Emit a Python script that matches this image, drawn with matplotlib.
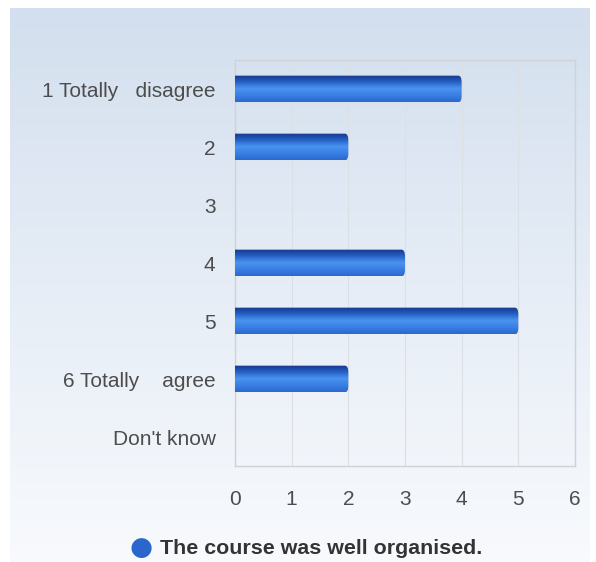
import numpy as np
import matplotlib.pyplot as plt
from matplotlib.patches import FancyBboxPatch
from matplotlib.colors import LinearSegmentedColormap

categories = ["1 Totally   disagree", "2", "3", "4", "5", "6 Totally    agree", "Don't know"]
counts = [4, 2, 0, 3, 5, 2, 0]
xticks = [0, 1, 2, 3, 4, 5, 6]
series_name = "The course was well organised."

plt.rcParams['font.family'] = ['Liberation Sans', 'DejaVu Sans']

fig = plt.figure(figsize=(5.96, 5.62), dpi=100)

# panel background: pale blue fading to white
bg = fig.add_axes([0, 0, 1, 1], zorder=-1)
bg.set_xlim(0, 1)
bg.set_ylim(0, 1)
bg.axis('off')
grad = np.linspace(0, 1, 256).reshape(-1, 1)
bg_cmap = LinearSegmentedColormap.from_list('bg', ['#f8fafd', '#e6edf6', '#d3dfee'])
bg.imshow(grad, cmap=bg_cmap, aspect='auto', extent=[10 / 596, 590 / 596, 0, 1 - 8 / 562],
          origin='lower', interpolation='bicubic')

ax = fig.add_axes([235 / 596, 1 - 466 / 562, 340 / 596, 406 / 562])
ax.patch.set_alpha(0)

bar_cmap = LinearSegmentedColormap.from_list(
    'bar', ['#16368c', '#2560c4', '#4a94f0', '#3a80e4', '#2a68cf'])
bar_h = 0.46
for i, v in enumerate(counts):
    if v <= 0:
        continue
    patch = FancyBboxPatch((-0.2, i - bar_h / 2), v + 0.2, bar_h,
                           boxstyle='round,pad=0,rounding_size=0.06',
                           mutation_aspect=2.0, facecolor='none', edgecolor='none', zorder=3)
    ax.add_patch(patch)
    img = ax.imshow(np.linspace(0, 1, 64).reshape(-1, 1), cmap=bar_cmap, aspect='auto',
                    extent=[0, v, i + bar_h / 2, i - bar_h / 2], origin='upper',
                    interpolation='bicubic', zorder=3)
    img.set_clip_path(patch)

ax.set_xlim(0, 6)
ax.set_ylim(len(categories) - 0.5, -0.5)
ax.set_xticks(xticks)
ax.set_xticklabels([str(t) for t in xticks])
ax.set_yticks(range(len(categories)))
ax.set_yticklabels(categories)
ax.tick_params(axis='both', length=0, labelsize=15, labelcolor='#4d4d4d')
ax.tick_params(axis='x', pad=17)
ax.tick_params(axis='y', pad=14)
ax.grid(axis='x', color='#dcdfe4', linewidth=0.8, zorder=0)
ax.set_axisbelow(True)
for s in ax.spines.values():
    s.set_color('#cfd3d8')
    s.set_linewidth(1.0)

# legend entry below the plot
fig.text(141 / 596, 1 - 548 / 562, '\u25cf', fontsize=19, color='#2a66cc',
         ha='center', va='center', family='DejaVu Sans')
fig.text(160 / 596, 1 - 549 / 562, series_name, fontsize=15.4, fontweight='bold',
         color='#333333', ha='left', va='center')

fig.savefig('out.png', dpi=100)
